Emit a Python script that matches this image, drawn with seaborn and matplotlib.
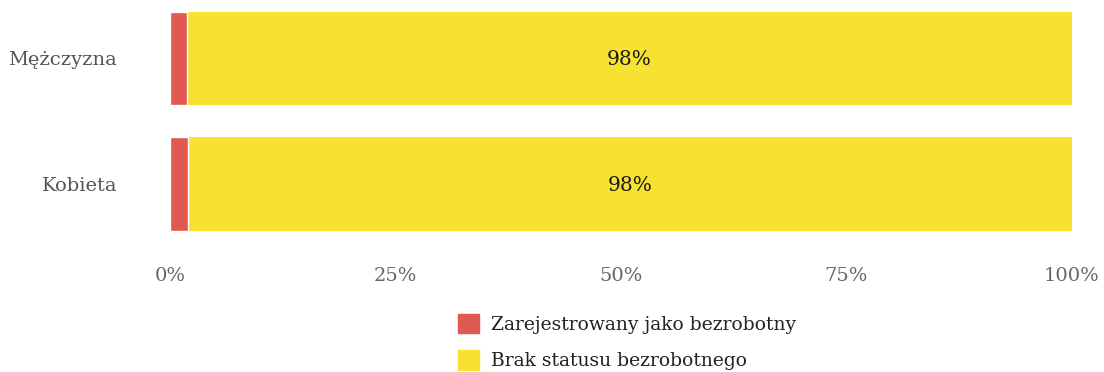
import matplotlib
matplotlib.use("Agg")
import matplotlib.pyplot as plt
import matplotlib.patches as mpatches
import seaborn as sns
import pandas as pd

categories = ["Mężczyzna", "Kobieta"]
registered = [1.9, 2.0]
no_status = [98.1, 98.0]
series_names = ["Zarejestrowany jako bezrobotny", "Brak statusu bezrobotnego"]
tick_values = [0, 25, 50, 75, 100]
tick_labels = ["0%", "25%", "50%", "75%", "100%"]

RED = "#e05a52"
YELLOW = "#f8e231"

sns.set_theme(style="white")
plt.rcParams["font.family"] = ["DejaVu Serif"]

df = pd.DataFrame({"cat": categories, "reg": registered, "none": no_status})
df["total"] = df["reg"] + df["none"]

W, H = 1104, 372
fig = plt.figure(figsize=(W / 100, H / 100), dpi=100)
ax = fig.add_axes([170 / W, 1 - 250 / H, (1072 - 170) / W, 250 / H])

# stacked: full bar first, registered share drawn over its start
sns.barplot(data=df, y="cat", x="total", color=YELLOW, orient="h",
            width=0.744, ax=ax, saturation=1, edgecolor="none")
sns.barplot(data=df, y="cat", x="reg", color=RED, orient="h",
            width=0.744, ax=ax, saturation=1, edgecolor="white", linewidth=1)

for i, row in df.iterrows():
    ax.text(row["reg"] + row["none"] / 2, i + 0.01, f"{round(row['none'])}%",
            ha="center", va="center", fontsize=14.5, color="#1a1a1a")

ax.set_xlim(0, 100)
ax.set_ylim(1.526, -0.466)
ax.set_xticks(tick_values)
ax.set_xticklabels(tick_labels, fontsize=14, color="#666666")
ax.tick_params(axis="x", length=0, pad=12)
ax.tick_params(axis="y", length=0, pad=38, labelsize=14, labelcolor="#555555")
ax.set_xlabel("")
ax.set_ylabel("")
for s in ax.spines.values():
    s.set_visible(False)

handles = [mpatches.Patch(color=RED, label=series_names[0]),
           mpatches.Patch(color=YELLOW, label=series_names[1])]
fig.legend(handles=handles, loc="upper left",
           bbox_to_anchor=(458 / W, 1 - 314 / H), frameon=False,
           fontsize=13.5, handlelength=1.12, handleheight=1.2,
           handletextpad=0.62, labelspacing=0.88, labelcolor="#222222",
           borderpad=0, borderaxespad=0)

fig.savefig("out.png", dpi=100)
